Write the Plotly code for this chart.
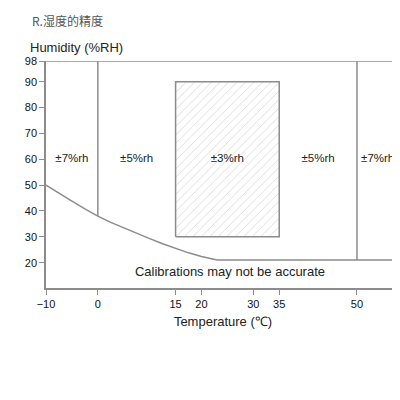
import plotly.graph_objects as go

# boundary curve of the calibrated region
curve_t = [-10, -7.5, -5, -2.5, 0, 2.5, 5, 7.5, 10, 12.5, 15, 17.5, 20, 22, 23, 58.3]
curve_h = [50, 46.8, 43.8, 40.8, 38, 35.6, 33.4, 31.3, 29.3, 27.3, 25.5, 23.8, 22.4, 21.4, 21, 21]

# vertical dividers (temperature, lower end humidity)
divider_t = [0, 50]
divider_low = [38, 21]
top_h = 98

# hatched +-3% area
box_t = [15, 35, 35, 15, 15]
box_h = [30, 30, 90, 90, 30]

# accuracy labels
zone_t = [-5, 7.5, 25, 42.5, 54]
zone_h = [60, 60, 60, 60, 60]
zone_txt = ["±7%rh", "±5%rh", "±3%rh", "±5%rh", "±7%rh"]

x_ticks = [-10, 0, 15, 20, 30, 35, 50]
y_ticks = [20, 30, 40, 50, 60, 70, 80, 90, 98]

line_col = "#8c8c8c"
fig = go.Figure()
fig.add_trace(go.Scatter(x=curve_t, y=curve_h, mode="lines",
                         line=dict(color=line_col, width=1.5)))
for t, lo in zip(divider_t, divider_low):
    fig.add_trace(go.Scatter(x=[t, t], y=[lo, top_h], mode="lines",
                             line=dict(color=line_col, width=1.5)))
fig.add_trace(go.Scatter(x=box_t, y=box_h, mode="lines", fill="toself",
                         fillcolor="white",
                         fillpattern=dict(shape="/", fgcolor="#b5b5b5", size=6, solidity=0.15),
                         line=dict(color=line_col, width=1.5)))
fig.add_trace(go.Scatter(x=zone_t, y=zone_h, mode="text", text=zone_txt,
                         textfont=dict(size=11.5, color="#222")))
fig.add_trace(go.Scatter(x=[25.5], y=[16], mode="text",
                         text=["Calibrations may not be accurate"],
                         textfont=dict(size=13, color="#222")))

fig.update_layout(
    width=400, height=400, showlegend=False,
    plot_bgcolor="white", paper_bgcolor="white",
    margin=dict(l=38, r=8, t=53, b=120),
    font=dict(family="Liberation Sans", color="#222"),
    xaxis=dict(range=[-10, 58.3], tickvals=x_ticks, ticks="outside", ticklen=5,
               tickcolor=line_col, showline=True, linecolor=line_col, linewidth=1.5,
               showgrid=False, zeroline=False, tickfont=dict(size=11, color="#111"),
               automargin=False,
               title=dict(text="Temperature (℃)", font=dict(size=13), standoff=8)),
    yaxis=dict(range=[10.2, 98], tickvals=y_ticks, ticks="outside", ticklen=5,
               tickcolor=line_col, showline=True, linecolor=line_col, linewidth=1.5,
               showgrid=False, zeroline=False, tickfont=dict(size=11, color="#111"),
               automargin=False),
    shapes=[dict(type="line", xref="paper", yref="y", x0=0, x1=1, y0=98, y1=98,
                 line=dict(color=line_col, width=1.5))],
    annotations=[
        dict(text="R.湿度的精度", xref="paper", yref="paper", x=-0.046, y=1.18,
             xanchor="left", yanchor="middle", showarrow=False,
             font=dict(size=12, color="#555", family="Noto Sans CJK SC")),
        dict(text="Humidity (%RH)", xref="paper", yref="paper", x=-0.052, y=1.06,
             xanchor="left", yanchor="middle", showarrow=False,
             font=dict(size=13, color="#222")),
    ],
)
fig.write_html("out.html")
